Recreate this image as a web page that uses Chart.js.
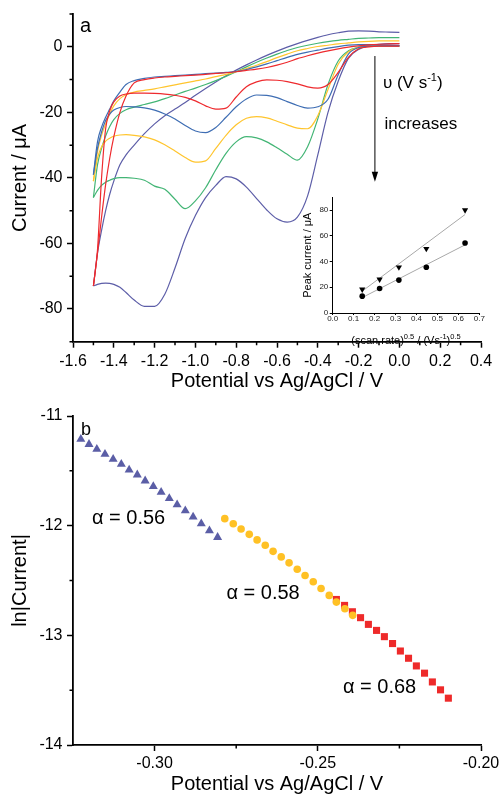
<!DOCTYPE html>
<html><head><meta charset="utf-8">
<script src="https://cdn.jsdelivr.net/npm/chart.js@4.4.1/dist/chart.umd.min.js"></script>
<style>
html,body{margin:0;padding:0;background:#fff;}
#wrap{position:relative;width:503px;height:795px;overflow:hidden;background:#fff;}
canvas{position:absolute;}
</style></head><body>
<div id="wrap">
<canvas id="cA" width="503" height="400" style="left:0;top:0;width:503px;height:400px"></canvas>
<canvas id="cB" width="503" height="395" style="left:0;top:400px;width:503px;height:395px"></canvas>
<canvas id="cI" width="200" height="160" style="left:290px;top:188px;width:200px;height:160px"></canvas>
</div>
<script>
// ---------- Panel a : cyclic voltammograms ----------
const cvPotential = [-1.5,-1.48,-1.46,-1.44,-1.42,-1.4,-1.37,-1.34,-1.3,-1.25,-1.2,-1.15,-1.1,-1.05,-1.0,-0.95,-0.9,-0.85,-0.8,-0.75,-0.7,-0.65,-0.6,-0.55,-0.5,-0.45,-0.4,-0.35,-0.3,-0.25,-0.2,-0.15,-0.1,-0.05,0.0];
const cvRedFwd    = [-73,-62,-40,-25,-19.5,-16.8,-15.0,-14.4,-14.1,-14.1,-14.2,-14.4,-14.8,-15.4,-16.5,-18.0,-19.0,-18.7,-15.3,-12.2,-10.7,-10.1,-10.2,-10.6,-11.3,-12.2,-12.6,-11.5,-7.8,-3.2,-0.6,0,0.2,0.2,0.2];
const cvRedRev    = [-73,-63,-52,-42,-34,-27.5,-20,-15,-11,-10,-9.5,-9.2,-9.0,-8.8,-8.6,-8.4,-8.1,-7.9,-7.6,-7.2,-6.8,-6.3,-5.6,-4.7,-3.6,-2.7,-1.9,-1.2,-0.6,-0.1,0.3,0.6,0.8,0.9,1.0];
const cvBlueFwd   = [-39,-31,-26,-22.5,-20.5,-19.3,-18.5,-18.2,-18.3,-18.6,-19.3,-20.5,-22.0,-24.0,-25.7,-26.2,-24.6,-21.5,-18.3,-15.9,-14.7,-14.8,-15.5,-16.7,-17.9,-18.7,-18.3,-16.0,-8.5,-2.2,-0.2,0.2,0.3,0.3,0.3];
const cvBlueRev   = [-39,-29,-24.5,-21.5,-19,-16.5,-13.8,-11.5,-10.3,-9.6,-9.2,-9.0,-8.8,-8.6,-8.4,-8.2,-8.0,-7.8,-7.5,-6.9,-6.1,-5.2,-4.2,-3.2,-2.3,-1.6,-1.0,-0.4,0.1,0.5,0.7,0.7,0.6,0.5,0.4];
const cvYellowFwd = [-41,-34,-30.5,-28.8,-27.9,-27.3,-26.9,-26.8,-27.0,-27.5,-28.4,-29.9,-31.8,-33.8,-35.2,-34.8,-31.0,-27.0,-23.8,-21.8,-21.3,-21.7,-22.7,-23.8,-24.8,-25.0,-21.0,-13.0,-5.3,-1.5,-0.2,0.2,0.3,0.3,0.3];
const cvYellowRev = [-41,-32,-27,-23.5,-20.5,-18,-15.8,-14.6,-13.8,-13.3,-12.8,-12.2,-11.6,-11.0,-10.4,-9.8,-9.1,-8.4,-7.6,-6.6,-5.6,-4.5,-3.3,-2.2,-1.2,-0.5,0.1,0.5,0.9,1.2,1.5,1.7,1.8,1.8,1.8];
const cvGreenFwd  = [-46,-43.8,-42.3,-41.3,-40.7,-40.2,-39.9,-39.9,-40.1,-40.7,-42.5,-43.5,-46.5,-49.4,-47.0,-43.0,-37.5,-32.5,-29.0,-27.4,-27.8,-29.0,-30.8,-32.8,-34.6,-30.5,-22.0,-11.5,-4.3,-1.2,-0.1,0.3,0.3,0.3,0.3];
const cvGreenRev  = [-46,-36,-31,-27.2,-24.3,-22.2,-20.3,-19.2,-18.4,-17.6,-16.8,-15.8,-14.7,-13.6,-12.6,-11.5,-10.3,-9.0,-7.6,-6.1,-4.7,-3.4,-2.2,-1.1,-0.2,0.5,1.1,1.6,2.0,2.3,2.6,2.7,2.8,2.8,2.8];
const cvPurpleFwd = [-73,-72.5,-72.2,-72.1,-72.2,-72.5,-73.4,-75.0,-77.3,-79.2,-79.2,-75.5,-67.5,-58.5,-51.5,-46.0,-42.3,-39.6,-40.3,-42.8,-46.3,-49.8,-52.5,-53.5,-52.0,-45.5,-33.0,-20.0,-10.5,-3.5,-0.8,0.3,0.8,1.0,1.0];
const cvPurpleRev = [-73,-63,-56,-50,-45,-41,-36,-33,-30,-26.5,-23.5,-21.0,-19.0,-17.0,-14.8,-12.7,-10.7,-8.8,-7.1,-5.5,-4.0,-2.6,-1.3,-0.1,1.0,2.0,2.9,3.7,4.3,4.8,4.9,4.8,4.6,4.5,4.4];
const cvXTicks = [-1.6,-1.4,-1.2,-1.0,-0.8,-0.6,-0.4,-0.2,0.0,0.2,0.4];
const cvXMinor = [-1.5,-1.3,-1.1,-0.9,-0.7,-0.5,-0.3,-0.1,0.1,0.3];
const cvYTicks = [-80,-60,-40,-20,0];
const cvYMinor = [-90,-70,-50,-30,-10,10];

// ---------- Inset : peak current vs sqrt(scan rate) ----------
const scanRateSqrt = [0.141,0.224,0.316,0.447,0.632];
const peakTriangle = [18.4,26.2,35.6,50.0,80.0];
const peakCircle   = [13.1,19.1,25.6,35.6,54.4];
const fitX         = [0.141,0.632];
const fitTriangle  = [17.0,76.6];
const fitCircle    = [12.0,53.0];
const insetXTicks  = [0,0.1,0.2,0.3,0.4,0.5,0.6,0.7];
const insetYTicks  = [0,20,40,60,80];

// ---------- Panel b : Tafel-type plot ----------
const triPotential  = [-0.3226,-0.3201,-0.3177,-0.3152,-0.3127,-0.3102,-0.3078,-0.3053,-0.3029,-0.3004,-0.2980,-0.2955,-0.2931,-0.2906,-0.2882,-0.2857,-0.2832,-0.2807];
const triLnCurrent  = [-11.212,-11.258,-11.303,-11.348,-11.394,-11.439,-11.491,-11.536,-11.591,-11.642,-11.694,-11.751,-11.809,-11.864,-11.921,-11.982,-12.045,-12.106];
const circPotential = [-0.2785,-0.2759,-0.2735,-0.2710,-0.2686,-0.2661,-0.2637,-0.2612,-0.2588,-0.2563,-0.2539,-0.2514,-0.2490,-0.2465,-0.2443,-0.2417,-0.2393];
const circLnCurrent = [-11.936,-11.982,-12.030,-12.079,-12.130,-12.179,-12.234,-12.285,-12.339,-12.397,-12.455,-12.512,-12.573,-12.636,-12.697,-12.757,-12.818];
const sqPotential   = [-0.2443,-0.2418,-0.2394,-0.2369,-0.2345,-0.2320,-0.2296,-0.2271,-0.2247,-0.2222,-0.2198,-0.2173,-0.2149,-0.2124,-0.2100];
const sqLnCurrent   = [-12.673,-12.727,-12.785,-12.839,-12.900,-12.955,-13.012,-13.075,-13.143,-13.209,-13.279,-13.345,-13.425,-13.497,-13.573];
const bXTicks = [-0.30,-0.25,-0.20];
const bXMinor = [-0.275,-0.225];
const bYTicks = [-14,-13,-12,-11];
const bYMinor = [-13.5,-12.5,-11.5];
const alphaLabels = [
  {text:'\u03B1 = 0.56', x:-0.3192, y:-11.936},
  {text:'\u03B1 = 0.58', x:-0.2780, y:-12.618},
  {text:'\u03B1 = 0.68', x:-0.2423, y:-13.475}
];

// ---------- helpers ----------
const FONT = '"Liberation Sans", Arial, Helvetica, sans-serif';
Chart.defaults.font.family = FONT;
Chart.defaults.color = '#000';

function pts(xs, ys){ return xs.map((v,i)=>({x:v, y:ys[i]})); }

function drawMinor(chart, xs, ys, len){
  const {ctx, chartArea:ca, scales:{x, y}} = chart;
  ctx.save(); ctx.strokeStyle='#000'; ctx.lineWidth=1.5; ctx.beginPath();
  xs.forEach(v=>{const p=x.getPixelForValue(v); ctx.moveTo(p, ca.bottom); ctx.lineTo(p, ca.bottom+len);});
  ys.forEach(v=>{const p=y.getPixelForValue(v); ctx.moveTo(ca.left, p); ctx.lineTo(ca.left-len, p);});
  ctx.stroke(); ctx.restore();
}

function richText(ctx, parts, x, y, align){
  let w=0;
  parts.forEach(p=>{ctx.font=p.size+'px '+FONT; p.w=ctx.measureText(p.t).width; w+=p.w;});
  let cx = align==='center' ? x-w/2 : x;
  ctx.textAlign='left'; ctx.textBaseline='alphabetic';
  parts.forEach(p=>{ctx.font=p.size+'px '+FONT; ctx.fillText(p.t, cx, y+(p.dy||0)); cx+=p.w;});
}

function axisBase(o){
  return Object.assign({
    type:'linear',
    grid:{display:true, drawOnChartArea:false, drawTicks:true, tickLength:6, tickWidth:1.5, tickColor:'#000'},
    border:{display:true, color:'#000', width:1.8}
  }, o);
}

// ---------- Chart A ----------
function cvLine(arr, color){
  return {data:pts(cvPotential, arr), showLine:true, borderColor:color, borderWidth:1.2,
          pointRadius:0, fill:false, cubicInterpolationMode:'monotone'};
}
const RED='#ee2a2e', BLUE='#3e6db3', YEL='#ffc52e', GRN='#43b575', PUR='#5d5ea8';

new Chart(document.getElementById('cA'), {
  type:'scatter',
  data:{datasets:[
    cvLine(cvRedFwd,RED), cvLine(cvRedRev,RED),
    cvLine(cvBlueFwd,BLUE), cvLine(cvBlueRev,BLUE),
    cvLine(cvYellowFwd,YEL), cvLine(cvYellowRev,YEL),
    cvLine(cvGreenFwd,GRN), cvLine(cvGreenRev,GRN),
    cvLine(cvPurpleFwd,PUR), cvLine(cvPurpleRev,PUR)
  ]},
  options:{
    responsive:false, animation:false, devicePixelRatio:1,
    layout:{padding:{top:14,right:22,left:0,bottom:0}},
    plugins:{legend:{display:false}, tooltip:{enabled:false}},
    scales:{
      x: axisBase({min:-1.6, max:0.4,
        afterBuildTicks:s=>{s.ticks=cvXTicks.map(v=>({value:v}));},
        afterFit:s=>{s.height=58.3;},
        ticks:{font:{size:16}, color:'#000', padding:4.4, maxRotation:0, autoSkip:false, callback:v=>Number(v).toFixed(1)},
        title:{display:true, text:'Potential vs Ag/AgCl / V', color:'#000', font:{size:20,lineHeight:1}, padding:{top:0,bottom:8.7}}
      }),
      y: axisBase({min:-90, max:10,
        afterBuildTicks:s=>{s.ticks=cvYTicks.map(v=>({value:v}));},
        afterFit:s=>{s.width=73;},
        ticks:{font:{size:16}, color:'#000', padding:4.5, autoSkip:false, callback:v=>String(v)},
        title:{display:true, text:'Current / \u03BCA', color:'#000', font:{size:20,lineHeight:1}, padding:{top:10.5,bottom:0}}
      })
    }
  },
  plugins:[{id:'annA', afterDraw(chart){
    drawMinor(chart, cvXMinor, cvYMinor, 3.5);
    const {ctx, chartArea:ca, scales:{x,y}} = chart;
    ctx.save(); ctx.fillStyle='#000'; ctx.strokeStyle='#000';
    ctx.font='20px '+FONT; ctx.textAlign='left'; ctx.textBaseline='alphabetic';
    ctx.fillText('a', ca.left+7, 31.7);
    const ax = x.getPixelForValue(-0.12), ay0 = y.getPixelForValue(-2.8), ay1 = y.getPixelForValue(-41.2);
    ctx.lineWidth=1; ctx.beginPath(); ctx.moveTo(ax, ay0); ctx.lineTo(ax, ay1-8); ctx.stroke();
    ctx.beginPath(); ctx.moveTo(ax-3.2, ay1-10); ctx.lineTo(ax+3.2, ay1-10); ctx.lineTo(ax, ay1); ctx.closePath(); ctx.fill();
    richText(ctx, [{t:'\u03C5 (V s',size:17},{t:'-1',size:11,dy:-7},{t:')',size:17}], ax+8, 87.5);
    ctx.font='17px '+FONT; ctx.fillText('increases', ax+9.5, 128.5);
    ctx.restore();
  }}]
});

// ---------- Inset ----------
new Chart(document.getElementById('cI'), {
  type:'scatter',
  data:{datasets:[
    {data:pts(scanRateSqrt, peakTriangle), pointStyle:'triangle', rotation:180, pointRadius:3.6, backgroundColor:'#000', borderColor:'#000', borderWidth:0, order:0},
    {data:pts(scanRateSqrt, peakCircle), pointStyle:'circle', pointRadius:2.8, backgroundColor:'#000', borderColor:'#000', borderWidth:0, order:1},
    {data:pts(fitX, fitTriangle), showLine:true, borderColor:'#a8a8a8', borderWidth:1, pointRadius:0, order:2},
    {data:pts(fitX, fitCircle), showLine:true, borderColor:'#a8a8a8', borderWidth:1, pointRadius:0, order:3}
  ]},
  options:{
    responsive:false, animation:false, devicePixelRatio:1,
    layout:{padding:{top:9.3,right:10.7,left:0,bottom:0}},
    plugins:{legend:{display:false}, tooltip:{enabled:false}},
    scales:{
      x:{type:'linear', min:0, max:0.7,
        afterBuildTicks:s=>{s.ticks=insetXTicks.map(v=>({value:v}));},
        afterFit:s=>{s.height=35;},
        grid:{display:true, drawOnChartArea:false, tickLength:2, tickWidth:1, tickColor:'#000'},
        border:{display:true,color:'#000',width:1},
        ticks:{font:{size:8,lineHeight:1}, color:'#222', padding:0, maxRotation:0, autoSkip:false, callback:v=>Number(v).toFixed(1)}
      },
      y:{type:'linear', min:0, max:90,
        afterBuildTicks:s=>{s.ticks=insetYTicks.map(v=>({value:v}));},
        afterFit:s=>{s.width=42.7;},
        grid:{display:true, drawOnChartArea:false, tickLength:3, tickWidth:1, tickColor:'#000'},
        border:{display:true,color:'#000',width:1},
        ticks:{font:{size:8,lineHeight:1}, color:'#222', padding:1.4, autoSkip:false, callback:v=>String(v)},
        title:{display:true, text:'Peak current / \u03BCA', color:'#000', font:{size:11,lineHeight:1}, padding:{top:12,bottom:0}}
      }
    }
  },
  plugins:[{id:'annI', afterDraw(chart){
    const {ctx, chartArea:ca} = chart;
    ctx.save(); ctx.fillStyle='#000';
    richText(ctx, [{t:'(scan rate)',size:11},{t:'0.5',size:7.5,dy:-5},{t:' / (Vs',size:11},{t:'-1',size:7.5,dy:-5},{t:')',size:11},{t:'0.5',size:7.5,dy:-5}], (ca.left+ca.right)/2, 156, 'center');
    ctx.restore();
  }}]
});

// ---------- Chart B ----------
new Chart(document.getElementById('cB'), {
  type:'scatter',
  data:{datasets:[
    {data:pts(circPotential, circLnCurrent), pointStyle:'circle', pointRadius:3.8, backgroundColor:'#ffc125', borderColor:'#ffc125', borderWidth:0, order:0},
    {data:pts(sqPotential, sqLnCurrent), pointStyle:'rect', pointRadius:5, backgroundColor:'#ee2a2a', borderColor:'#ee2a2a', borderWidth:0, order:1},
    {data:pts(triPotential, triLnCurrent), pointStyle:'triangle', pointRadius:5.2, backgroundColor:'#5b5ea6', borderColor:'#5b5ea6', borderWidth:0, order:2}
  ]},
  options:{
    responsive:false, animation:false, devicePixelRatio:1,
    layout:{padding:{top:16,right:22,left:0,bottom:0}},
    plugins:{legend:{display:false}, tooltip:{enabled:false}},
    scales:{
      x: axisBase({min:-0.325, max:-0.20,
        afterBuildTicks:s=>{s.ticks=bXTicks.map(v=>({value:v}));},
        afterFit:s=>{s.height=50;},
        ticks:{font:{size:16}, color:'#000', padding:3.4, maxRotation:0, autoSkip:false, callback:v=>Number(v).toFixed(2)},
        title:{display:true, text:'Potential vs Ag/AgCl / V', color:'#000', font:{size:20,lineHeight:1}, padding:{top:0,bottom:0.4}}
      }),
      y: axisBase({min:-14, max:-11,
        afterBuildTicks:s=>{s.ticks=bYTicks.map(v=>({value:v}));},
        afterFit:s=>{s.width=73;},
        ticks:{font:{size:16}, color:'#000', padding:4.5, autoSkip:false, callback:v=>String(v)},
        title:{display:true, text:'ln|Current|', color:'#000', font:{size:20,lineHeight:1}, padding:{top:10,bottom:0}}
      })
    }
  },
  plugins:[{id:'annB', afterDraw(chart){
    drawMinor(chart, bXMinor, bYMinor, 3.5);
    const {ctx, chartArea:ca, scales:{x,y}} = chart;
    ctx.save(); ctx.fillStyle='#000';
    ctx.font='18px '+FONT; ctx.textAlign='left'; ctx.textBaseline='alphabetic';
    ctx.fillText('b', ca.left+8, 35);
    ctx.font='20px '+FONT; ctx.textBaseline='middle';
    alphaLabels.forEach(l=>ctx.fillText(l.text, x.getPixelForValue(l.x), y.getPixelForValue(l.y)));
    ctx.restore();
  }}]
});
</script>
</body></html>
